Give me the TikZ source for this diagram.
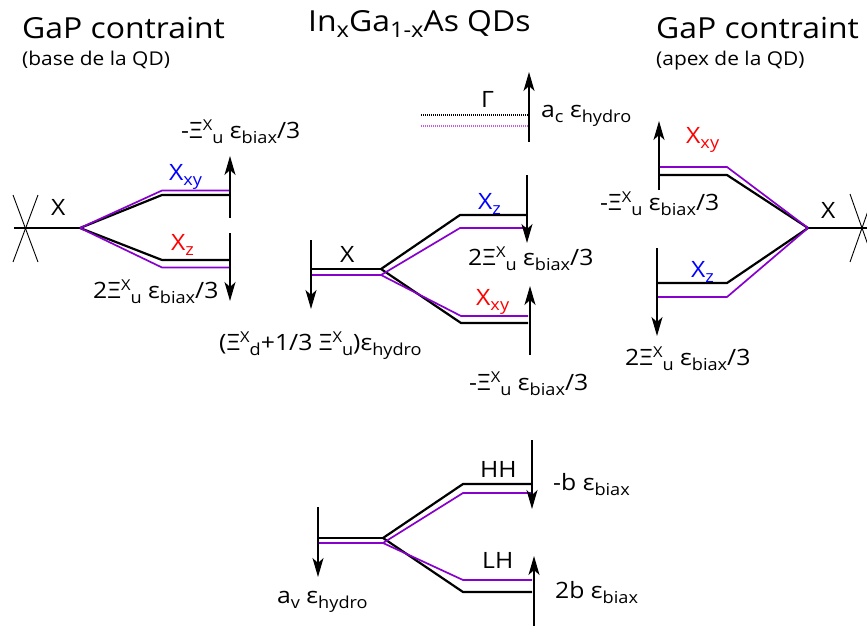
\documentclass[tikz,border=0pt]{standalone}
\usepackage{fontspec}
\setmainfont{Open Sans}[FakeStretch=1.1]
\usetikzlibrary{arrows.meta}
\definecolor{lvlpur}{RGB}{136,0,204}
\definecolor{dotpur}{RGB}{200,90,235}
\definecolor{lblblue}{RGB}{0,0,255}
\definecolor{lblred}{RGB}{255,0,0}
\newcommand{\sbs}[1]{\raisebox{-5.5pt}{\fontsize{16.5}{17}\selectfont #1}}
\newcommand{\sps}[1]{\raisebox{7.5pt}{\fontsize{15}{16}\selectfont #1}}
\newcommand{\tsbs}[1]{\raisebox{-5.5pt}{\fontsize{21.5}{22}\selectfont #1}}
\newcommand{\eb}{ε\sbs{biax}}
\newcommand{\eh}{ε\sbs{hydro}}
\newcommand{\Xu}{Ξ\sps{X}\sbs{u}}
\begin{document}
\begin{tikzpicture}[x=1pt,y=-1pt,
  blk/.style={black,line width=2.2pt,line join=miter},
  pur/.style={lvlpur,line width=1.7pt},
  arr/.style={-{Stealth[length=19pt,width=11pt,inset=5pt]},line width=1.3pt},
  thin/.style={black,line width=0.9pt},
  lbl/.style={font=\fontsize{22.5}{26}\selectfont,inner sep=0,anchor=base west},
  ttl/.style={font=\fontsize{29}{32}\selectfont,inner sep=0,anchor=base west},
  sub/.style={font=\fontsize{19}{22}\selectfont,inner sep=0,anchor=base west}]
\useasboundingbox (0,0) rectangle (867,626);
% ---------- left: GaP base ----------
\node[ttl] (t1) at (22,39) {GaP contraint};
\node[sub] (s1) at (22,66) {(base de la QD)};
\coordinate (c1a) at (13,195); \coordinate (c1b) at (38,262);
\coordinate (c1c) at (38,195); \coordinate (c1d) at (13,262);
\draw[thin] (c1a) -- (c1b); \draw[thin] (c1c) -- (c1d);
\coordinate (L0) at (14,228); \coordinate (Lb) at (80,228);
\draw[blk] (L0) -- (Lb);
\coordinate (Lu1) at (162,195); \coordinate (Lu2) at (230,195);
\coordinate (Lup1) at (162,190.5); \coordinate (Lup2) at (230,190.5);
\coordinate (Ld1) at (162,260); \coordinate (Ld2) at (230,260);
\coordinate (Ldp1) at (162,267.5); \coordinate (Ldp2) at (229,267.5);
\draw[blk] (Lb) -- (Lu1) -- (Lu2);
\draw[blk] (Lb) -- (Ld1) -- (Ld2);
\draw[pur] (Lb) -- (Lup1) -- (Lup2);
\draw[pur] (Lb) -- (Ldp1) -- (Ldp2);
\coordinate (La1s) at (230,218); \coordinate (La1e) at (230,156);
\coordinate (La2s) at (230,233); \coordinate (La2e) at (230,301);
\draw[arr] (La1s) -- (La1e);
\draw[arr] (La2s) -- (La2e);
\node[lbl] (LX) at (51,215) {X};
\node[lbl,lblblue] (LXxy) at (169,180) {X\sbs{xy}};
\node[lbl,lblred] (LXz) at (171,250) {X\sbs{z}};
\node[lbl] (Ll1) at (181,138) {-\Xu{} \eb/3};
\node[lbl] (Ll2) at (93,298) {2\Xu{} \eb/3};
% ---------- middle: InGaAs ----------
\node[ttl] (t2) at (308,32) {In\tsbs{x}Ga\tsbs{1-x}As QDs};
\coordinate (G1) at (421,115); \coordinate (G2) at (528,115);
\coordinate (Gp1) at (421,125.5); \coordinate (Gp2) at (528,125.5);
\draw[black,line width=2pt,dash pattern=on 1pt off 1pt] (G1) -- (G2);
\draw[dotpur,line width=2pt,dash pattern=on 1pt off 1pt] (Gp1) -- (Gp2);
\node[lbl] (Gl) at (481,107) {Γ};
\coordinate (Ga1) at (529,142); \coordinate (Ga2) at (529,72);
\draw[arr] (Ga1) -- (Ga2);
\node[lbl] (Gac) at (541,117) {a\sbs{c} \eh};
% X band
\coordinate (M0) at (311,269); \coordinate (Mb) at (381,269);
\coordinate (Mp0) at (311,275); \coordinate (Mpb) at (381,275);
\coordinate (Mu1) at (460,215); \coordinate (Mu2) at (527,215);
\coordinate (Mup1) at (460,228); \coordinate (Mup2) at (527,228);
\coordinate (Md1) at (461,323); \coordinate (Md2) at (528,323);
\coordinate (Mdp1) at (461,316); \coordinate (Mdp2) at (528,316);
\draw[blk] (M0) -- (Mb);
\draw[pur] (Mp0) -- (Mpb);
\draw[blk] (Mb) -- (Mu1) -- (Mu2);
\draw[blk] (Mb) -- (Md1) -- (Md2);
\draw[pur] (Mpb) -- (Mup1) -- (Mup2);
\draw[pur] (Mpb) -- (Mdp1) -- (Mdp2);
\coordinate (Ma1s) at (311,240); \coordinate (Ma1e) at (311,309);
\coordinate (Ma2s) at (527,175); \coordinate (Ma2e) at (527,243);
\coordinate (Ma3s) at (530,355); \coordinate (Ma3e) at (530,286);
\draw[arr] (Ma1s) -- (Ma1e);
\draw[arr] (Ma2s) -- (Ma2e);
\draw[arr] (Ma3s) -- (Ma3e);
\node[lbl] (MX) at (340,262) {X};
\node[lbl,lblblue] (MXz) at (478,209) {X\sbs{z}};
\node[lbl,lblred] (MXxy) at (476,305) {X\sbs{xy}};
\node[lbl] (Ml1) at (468,265) {2\Xu{} \eb/3};
\node[lbl] (Ml2) at (219,350) {(Ξ\sps{X}\sbs{d}+1/3 \Xu)\eh};
\node[lbl] (Ml3) at (469,390) {-\Xu{} \eb/3};
% valence
\coordinate (V0) at (317,538); \coordinate (Vb) at (383,538);
\coordinate (Vp0) at (317,543); \coordinate (Vpb) at (383,543);
\coordinate (Vu1) at (463,484); \coordinate (Vu2) at (532,484);
\coordinate (Vup1) at (463,493); \coordinate (Vup2) at (532,493);
\coordinate (Vd1) at (463,592); \coordinate (Vd2) at (532,592);
\coordinate (Vdp1) at (463,580); \coordinate (Vdp2) at (532,580);
\draw[blk] (V0) -- (Vb);
\draw[pur] (Vp0) -- (Vpb);
\draw[blk] (Vb) -- (Vu1) -- (Vu2);
\draw[blk] (Vb) -- (Vd1) -- (Vd2);
\draw[pur] (Vpb) -- (Vup1) -- (Vup2);
\draw[pur] (Vpb) -- (Vdp1) -- (Vdp2);
\coordinate (Va1s) at (532,440); \coordinate (Va1e) at (532,509);
\coordinate (Va2s) at (534,626); \coordinate (Va2e) at (534,556);
\coordinate (Va3s) at (318,507); \coordinate (Va3e) at (318,577);
\draw[arr] (Va1s) -- (Va1e);
\draw[arr] (Va2s) -- (Va2e);
\draw[arr] (Va3s) -- (Va3e);
\node[lbl] (HH) at (480,477) {HH};
\node[lbl] (LH) at (482,568) {LH};
\node[lbl] (Vl1) at (553,490) {-b \eb};
\node[lbl] (Vl2) at (555,598) {2b \eb};
\node[lbl] (Vl3) at (277,603) {a\sbs{v} \eh};
% ---------- right: GaP apex ----------
\node[ttl] (t3) at (656,39) {GaP contraint};
\node[sub] (s3) at (656,66) {(apex de la QD)};
\coordinate (c3a) at (850,194); \coordinate (c3b) at (874,262);
\coordinate (c3c) at (874,194); \coordinate (c3d) at (850,262);
\draw[thin] (c3a) -- (c3b); \draw[thin] (c3c) -- (c3d);
\coordinate (R0) at (867,228); \coordinate (Rb) at (808,228);
\draw[blk] (R0) -- (Rb);
\coordinate (Ru1) at (727,175); \coordinate (Ru2) at (658,175);
\coordinate (Rup1) at (727,167); \coordinate (Rup2) at (658,167);
\coordinate (Rd1) at (727,283); \coordinate (Rd2) at (658,283);
\coordinate (Rdp1) at (727,297); \coordinate (Rdp2) at (658,297);
\draw[blk] (Rb) -- (Ru1) -- (Ru2);
\draw[blk] (Rb) -- (Rd1) -- (Rd2);
\draw[pur] (Rb) -- (Rup1) -- (Rup2);
\draw[pur] (Rb) -- (Rdp1) -- (Rdp2);
\coordinate (Ra1s) at (659,190); \coordinate (Ra1e) at (659,121);
\coordinate (Ra2s) at (657,248); \coordinate (Ra2e) at (657,336);
\draw[arr] (Ra1s) -- (Ra1e);
\draw[arr] (Ra2s) -- (Ra2e);
\node[lbl] (RX) at (821,218) {X};
\node[lbl,lblred] (RXxy) at (686,143) {X\sbs{xy}};
\node[lbl,lblblue] (RXz) at (691,277) {X\sbs{z}};
\node[lbl] (Rl1) at (600,210) {-\Xu{} \eb/3};
\node[lbl] (Rl2) at (625,365) {2\Xu{} \eb/3};
\end{tikzpicture}
\end{document}
